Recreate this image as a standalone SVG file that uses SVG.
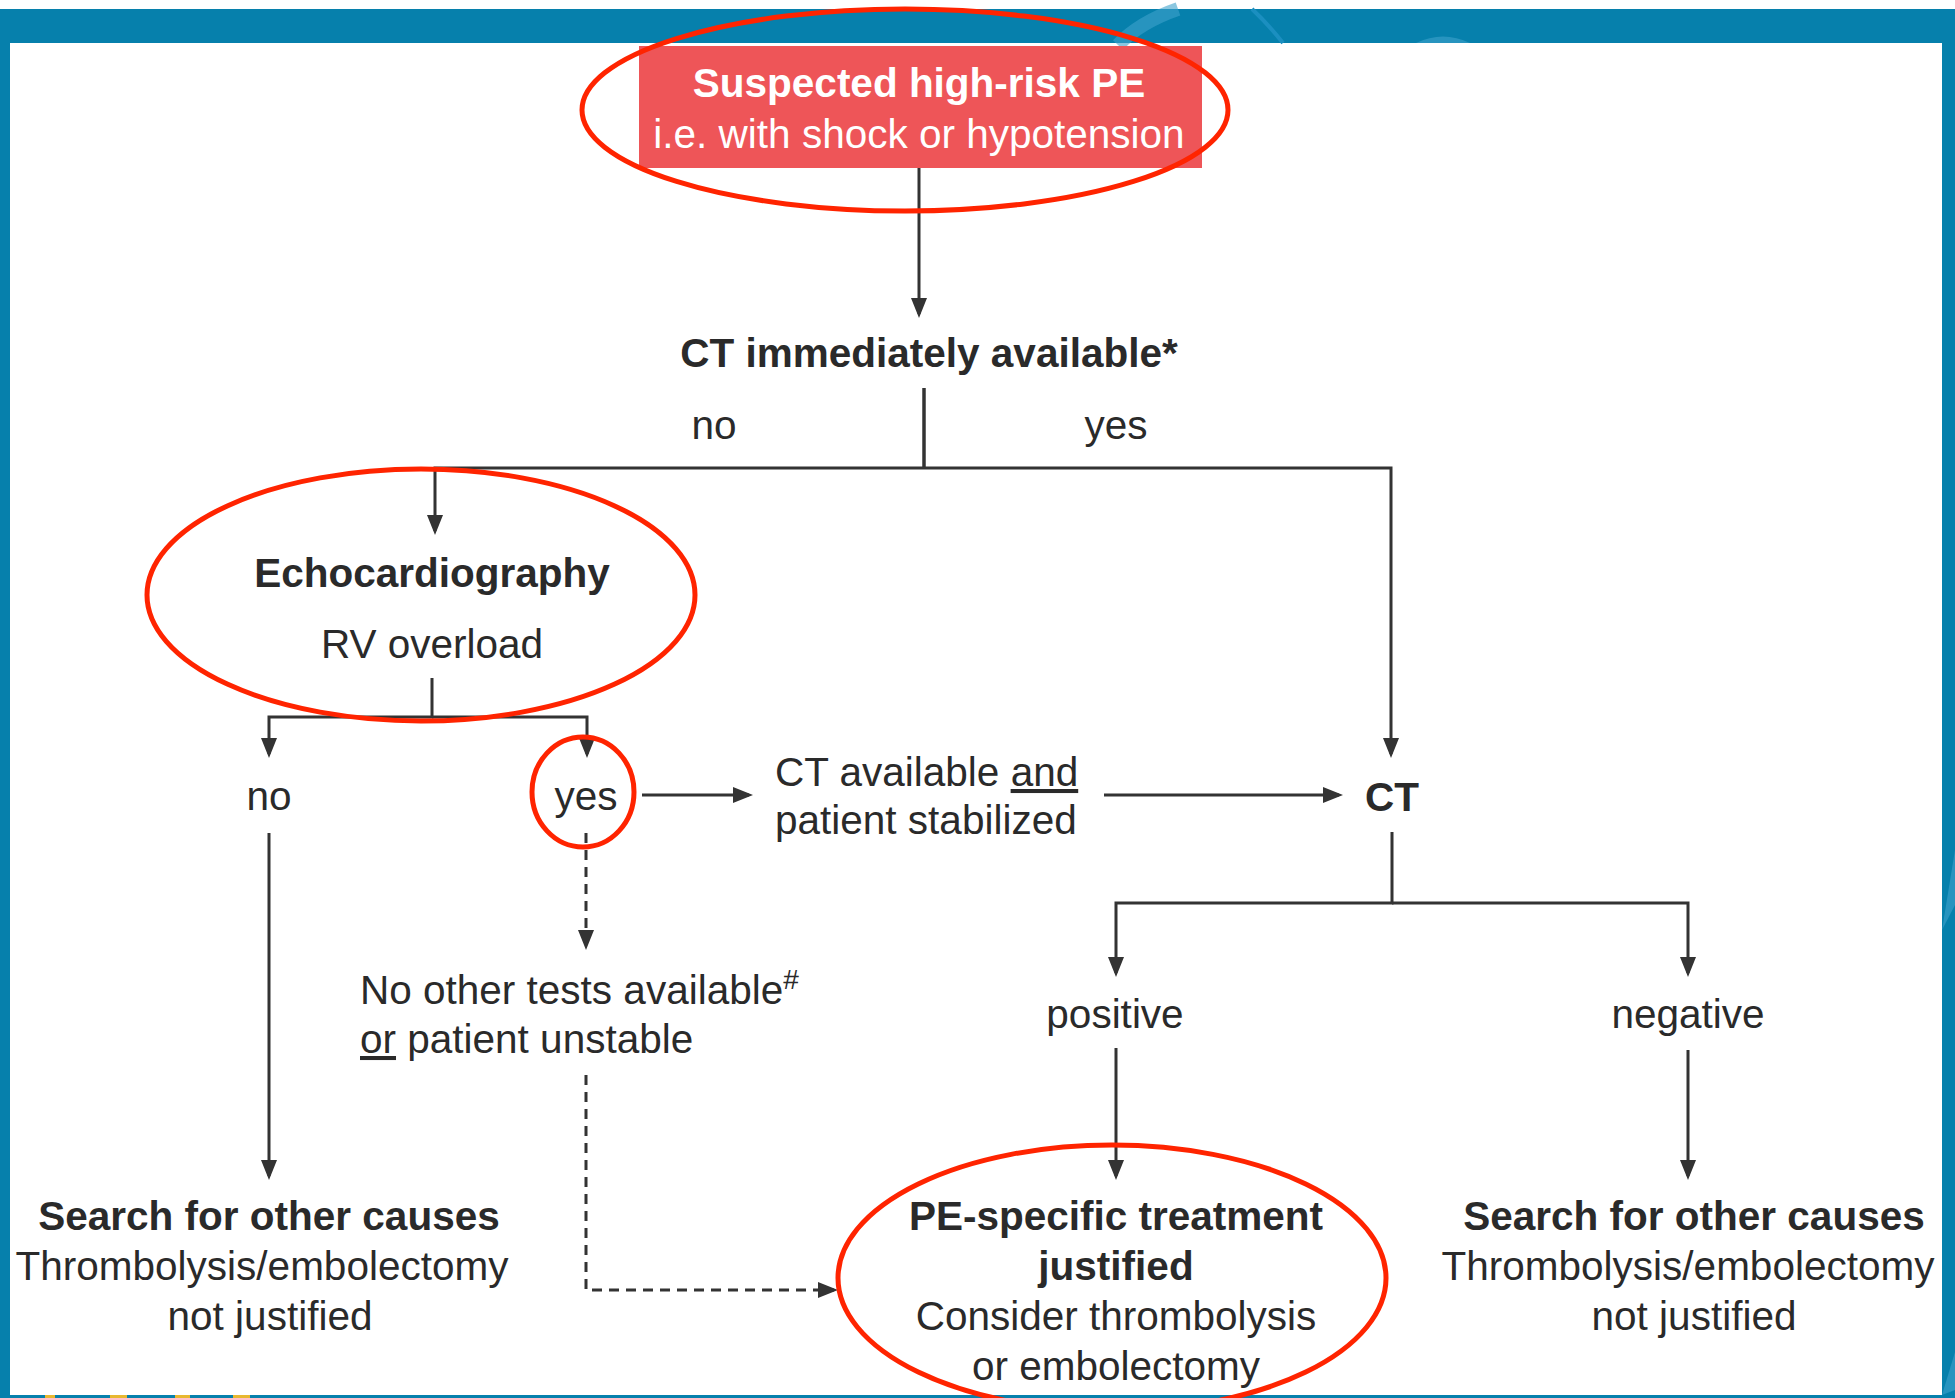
<svg xmlns="http://www.w3.org/2000/svg" width="1955" height="1398" viewBox="0 0 1955 1398">
<defs>
<style>
text{font-family:"Liberation Sans",Arial,Helvetica,sans-serif;font-size:40.5px;fill:#2a2a2a;text-anchor:middle}
.b{font-weight:bold}
.w{fill:#ffffff}
.l{text-anchor:start}
.u{text-decoration:underline}
.c{fill:none;stroke:#333333;stroke-width:3}
.a{marker-end:url(#ah)}
.d{stroke-dasharray:10 7}
.hl{fill:none;stroke:#ff2400;stroke-width:5}
.band{fill:#0680ac}
.sw{fill:none;stroke:#3da2cc;stroke-width:14;opacity:0.6}
</style>
<marker id="ah" viewBox="0 0 20 16" refX="16" refY="8" markerWidth="20" markerHeight="16" markerUnits="userSpaceOnUse" orient="auto">
<path d="M0,0 L20,8 L0,16 z" fill="#333333"/>
</marker>
</defs>
<rect x="0" y="0" width="1955" height="1398" fill="#ffffff"/>
<g id="frame">
<rect class="band" x="0" y="9" width="1955" height="34"/>
<rect class="band" x="0" y="9" width="10" height="1389"/>
<rect class="band" x="1942" y="9" width="13" height="1389"/>
<rect class="band" x="0" y="1395" width="1955" height="3"/>
<path class="sw" d="M1118,45 Q1140,22 1178,9"/>
<path d="M1252,9 Q1268,24 1283,43" fill="none" stroke="#1b8fc0" stroke-width="4"/>
<path d="M1416,43 Q1443,30 1470,43 z" fill="#3da2cc" opacity="0.6"/>
<path d="M1942,930 L1955,850 L1955,905 z" fill="#3da2cc" opacity="0.6"/>
<path d="M1942,1395 L1955,1352 L1955,1390 z" fill="#3da2cc" opacity="0.6"/>
<rect x="45" y="1395" width="10" height="3" fill="#e8b830"/>
<rect x="110" y="1395" width="17" height="3" fill="#e8b830"/>
<rect x="175" y="1395" width="15" height="3" fill="#e8b830"/>
<rect x="233" y="1395" width="17" height="3" fill="#e8b830"/>
</g>
<g id="connectors">
<path class="c a" d="M919,166 V314"/>
<path class="c" d="M924,388 V468" style="stroke-width:3.5"/>
<path class="c a" d="M924,468 H435 V531"/>
<path class="c a" d="M924,468 H1391 V754"/>
<path class="c a" d="M432,678 V717 H269 V754"/>
<path class="c a" d="M432,717 H587 V754"/>
<path class="c a" d="M642,795 H749"/>
<path class="c a" d="M1104,795 H1339"/>
<path class="c a" d="M1392,832 V903 H1116 V973"/>
<path class="c a" d="M1392,903 H1688 V973"/>
<path class="c a" d="M269,833 V1176"/>
<path class="c a" d="M1116,1048 V1176"/>
<path class="c a" d="M1688,1050 V1176"/>
<path class="c a d" d="M586,833 V946"/>
<path class="c a d" d="M586,1075 V1290 H834"/>
</g>
<g id="start">
<rect x="639" y="46" width="563" height="122" fill="#ee5558"/>
<text class="b w" x="919" y="97">Suspected high-risk PE</text>
<text class="w" x="919" y="148">i.e. with shock or hypotension</text>
</g>
<g id="ct-question">
<text class="b" x="929" y="367">CT immediately available*</text>
</g>
<g id="label-no-1"><text x="714" y="439">no</text></g>
<g id="label-yes-1"><text x="1116" y="439">yes</text></g>
<g id="echo">
<text class="b" x="432" y="587">Echocardiography</text>
<text x="432" y="658">RV overload</text>
</g>
<g id="echo-no"><text x="269" y="810">no</text></g>
<g id="echo-yes"><text x="586" y="810">yes</text></g>
<g id="ct-stabilized">
<text class="l" x="775" y="786">CT available <tspan class="u">and</tspan></text>
<text class="l" x="775" y="834">patient stabilized</text>
</g>
<g id="ct"><text class="b" x="1392" y="811">CT</text></g>
<g id="no-other-tests">
<text class="l" x="360" y="1004">No other tests available<tspan font-size="28" dy="-15">#</tspan></text>
<text class="l" x="360" y="1053"><tspan class="u">or</tspan> patient unstable</text>
</g>
<g id="positive"><text x="1115" y="1028">positive</text></g>
<g id="negative"><text x="1688" y="1028">negative</text></g>
<g id="search-left">
<text class="b" x="269" y="1230">Search for other causes</text>
<text x="262" y="1280">Thrombolysis/embolectomy</text>
<text x="270" y="1330">not justified</text>
</g>
<g id="treatment">
<text class="b" x="1116" y="1230">PE-specific treatment</text>
<text class="b" x="1116" y="1280">justified</text>
<text x="1116" y="1330">Consider thrombolysis</text>
<text x="1116" y="1380">or embolectomy</text>
</g>
<g id="search-right">
<text class="b" x="1694" y="1230">Search for other causes</text>
<text x="1688" y="1280">Thrombolysis/embolectomy</text>
<text x="1694" y="1330">not justified</text>
</g>
<g id="highlights">
<ellipse class="hl" cx="905" cy="110" rx="323" ry="101"/>
<ellipse class="hl" cx="421" cy="595" rx="274" ry="126"/>
<ellipse class="hl" cx="583" cy="792" rx="51" ry="55"/>
<ellipse class="hl" cx="1112" cy="1278" rx="274" ry="133"/>
</g>
</svg>
